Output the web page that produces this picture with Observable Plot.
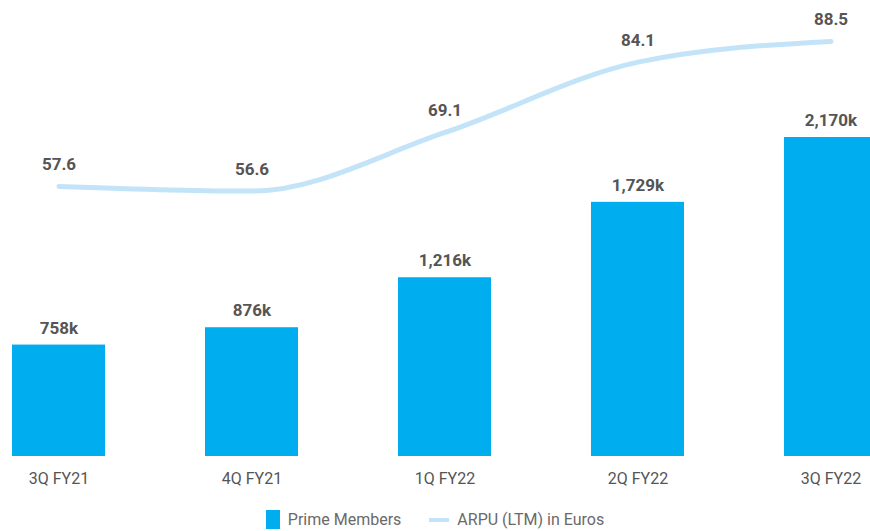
<!DOCTYPE html>
<html>
<head>
<meta charset="utf-8">
<script src="https://cdn.jsdelivr.net/npm/d3@7"></script>
<script src="https://cdn.jsdelivr.net/npm/@observablehq/plot@0.6"></script>
<style>
  html, body { margin: 0; padding: 0; background: #fff; overflow: hidden; }
  #chart { width: 870px; height: 531px; position: relative; }
  .legend { position: absolute; left: 0; top: 510px; width: 870px; display: flex; justify-content: center; align-items: center;
    font-family: "Liberation Sans Narrow", Roboto, sans-serif; font-size: 16px; color: #6a6a6a; }
  .legend .item { display: flex; align-items: center; margin: 0 14px; }
  .sw-bar { width: 14px; height: 19px; background: #00ADEF; margin-right: 8px; }
  .sw-line { width: 20px; height: 4px; background: #C3E4F8; margin-right: 8px; }
</style>
</head>
<body>
<div id="chart"></div>
<script>
const quarters = ["3Q FY21", "4Q FY21", "1Q FY22", "2Q FY22", "3Q FY22"];
const primeMembers = [758, 876, 1216, 1729, 2170];          // thousands
const memberLabels = ["758k", "876k", "1,216k", "1,729k", "2,170k"];
const arpu = [57.6, 56.6, 69.1, 84.1, 88.5];                  // euros
const arpuLabels = ["57.6", "56.6", "69.1", "84.1", "88.5"];

// secondary axis scaling factor: maps ARPU onto the members scale
const arpuFactor = 31.9;

const data = quarters.map((q, i) => ({
  q, members: primeMembers[i], mLabel: memberLabels[i],
  arpu: arpu[i], aLabel: arpuLabels[i]
}));

const font = "Roboto, 'Liberation Sans', sans-serif";

const chart = Plot.plot({
  width: 870,
  height: 498,
  marginLeft: 12,
  marginRight: -7,
  marginTop: 20,
  marginBottom: 42,
  style: { fontFamily: font, background: "transparent" },
  x: { domain: quarters, paddingInner: 0.518, paddingOuter: 0, round: false, label: null },
  y: { domain: [0, 2966], axis: null },
  marks: [
    Plot.barY(data, { x: "q", y: "members", fill: "#00ADEF" }),
    Plot.text(data, { x: "q", y: "members", text: "mLabel", dy: -17, fontSize: 17, fontWeight: 700, fill: "#555" }),
    Plot.line(data, { x: "q", y: d => d.arpu * arpuFactor, stroke: "#C3E4F8", strokeWidth: 5, curve: "monotone-x" }),
    Plot.text(data, { x: "q", y: d => d.arpu * arpuFactor, text: "aLabel", dy: -22, fontSize: 17, fontWeight: 700, fill: "#555" }),
    Plot.axisX({ tickSize: 0, tickPadding: 16, fontSize: 16, fill: "#555", fontFamily: "'Liberation Sans Narrow', Roboto, sans-serif", label: null })
  ]
});
document.getElementById("chart").appendChild(chart);

const legend = document.createElement("div");
legend.className = "legend";
legend.innerHTML = '<div class="item"><div class="sw-bar"></div>Prime Members</div>' +
                   '<div class="item"><div class="sw-line"></div>ARPU (LTM) in Euros</div>';
document.getElementById("chart").appendChild(legend);
</script>
</body>
</html>
